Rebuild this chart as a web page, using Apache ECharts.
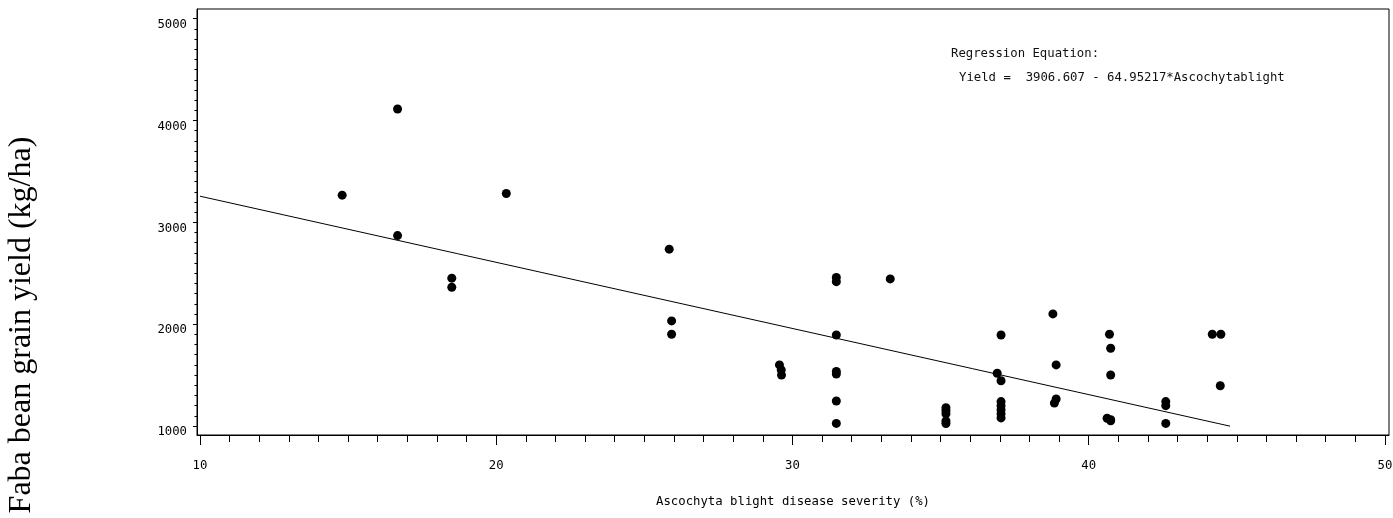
<!DOCTYPE html>
<html>
<head>
<meta charset="utf-8">
<title>Faba bean yield vs Ascochyta blight severity</title>
<script src="https://cdn.jsdelivr.net/npm/echarts@6/dist/echarts.min.js"></script>
<style>
  html, body { margin: 0; padding: 0; background: #fff; }
  #chart { width: 1393px; height: 518px; }
</style>
</head>
<body>
<div id="chart"></div>
<script>
// Observed plots: disease severity (%) and grain yield (kg/ha)
const severity = [
  14.80, 16.67, 16.67, 18.50, 18.50, 20.34,
  25.84, 25.92, 25.92,
  29.56, 29.62, 29.63,
  31.48, 31.48, 31.48, 31.48, 31.48, 31.48, 31.48,
  33.30,
  35.18, 35.18, 35.18, 35.18, 35.18,
  36.91, 37.04, 37.04, 37.04, 37.04, 37.04, 37.04, 37.04,
  38.79, 38.90, 38.90, 38.84,
  40.70, 40.74, 40.74, 40.62, 40.74, 40.74,
  42.60, 42.60, 42.60,
  44.17, 44.46, 44.44
];
const grainYield = [
  3267, 4113, 2870, 2452, 2363, 3283,
  2737, 2032, 1901,
  1600, 1550, 1500,
  2458, 2418, 1894, 1535, 1510, 1246, 1026,
  2445,
  1180, 1150, 1120, 1050, 1025,
  1518, 1445, 1894, 1240, 1200, 1160, 1120, 1080,
  2101, 1600, 1265, 1225,
  1901, 1764, 1501, 1076, 1052, 1062,
  1240, 1200, 1026,
  1901, 1901, 1396
];

// Fitted regression: Yield = 3906.607 - 64.95217 * Ascochytablight
const INTERCEPT = 3906.607;
const SLOPE = -64.95217;
const fitRange = [10, 44.77];

const xMajorTicks = [10, 20, 30, 40, 50];
const yMajorTicks = [1000, 2000, 3000, 4000, 5000];

const xMinorTicks = [];
for (let v = 10; v <= 50; v += 1) if (v % 10 !== 0) xMinorTicks.push(v);
const yMinorTicks = [];
for (let v = 1000; v <= 5000; v += 100) if (v % 1000 !== 0) yMinorTicks.push(v);

const X_MIN = 9.9, X_MAX = 50.135;
const Y_MIN = 912, Y_MAX = 5095;

const points = severity.map((s, i) => [s, grainYield[i]]);
const fitLine = fitRange.map(x => [x, INTERCEPT + SLOPE * x]);

const mono = '"DejaVu Sans Mono", "Liberation Mono", monospace';
const MONO_SIZE = 12.3;

const chart = echarts.init(document.getElementById('chart'), null, { renderer: 'canvas' });
chart.setOption({
  animation: false,
  backgroundColor: '#ffffff',
  grid: {
    left: 197, right: 4, top: 9, bottom: 83,
    show: true, borderColor: '#000', borderWidth: 1,
    backgroundColor: 'transparent',
    outerBoundsMode: 'none'
  },
  xAxis: [
    {
      type: 'value', min: X_MIN, max: X_MAX, position: 'bottom',
      axisLine: { show: true, onZero: false, lineStyle: { color: '#000', width: 1 } },
      axisTick: { show: true, customValues: xMajorTicks, length: 10, lineStyle: { color: '#000' } },
      axisLabel: {
        customValues: xMajorTicks, margin: 25, color: '#000',
        fontFamily: mono, fontSize: MONO_SIZE, formatter: v => String(v)
      },
      splitLine: { show: false },
      name: 'Ascochyta blight disease severity (%)',
      nameLocation: 'middle', nameGap: 61,
      nameTextStyle: { fontFamily: mono, fontSize: MONO_SIZE, color: '#000' }
    },
    {
      type: 'value', min: X_MIN, max: X_MAX, position: 'bottom',
      axisLine: { show: false, onZero: false },
      axisTick: { show: true, customValues: xMinorTicks, length: 7, lineStyle: { color: '#000' } },
      axisLabel: { show: false },
      splitLine: { show: false }
    }
  ],
  yAxis: [
    {
      type: 'value', min: Y_MIN, max: Y_MAX, position: 'left',
      axisLine: { show: true, onZero: false, lineStyle: { color: '#000', width: 1 } },
      axisTick: { show: true, customValues: yMajorTicks, length: 4, lineStyle: { color: '#000' } },
      axisLabel: {
        customValues: yMajorTicks, margin: 10, color: '#000',
        fontFamily: mono, fontSize: MONO_SIZE, verticalAlign: 'top',
        formatter: v => String(v)
      },
      splitLine: { show: false }
    },
    {
      type: 'value', min: Y_MIN, max: Y_MAX, position: 'left',
      axisLine: { show: false, onZero: false },
      axisTick: { show: true, customValues: yMinorTicks, length: 2.5, lineStyle: { color: '#000' } },
      axisLabel: { show: false },
      splitLine: { show: false }
    }
  ],
  graphic: [
    {
      type: 'text', left: 951, top: 48,
      style: {
        text: 'Regression Equation:',
        font: MONO_SIZE + 'px ' + mono, fill: '#111'
      }
    },
    {
      type: 'text', left: 959, top: 72,
      style: {
        text: 'Yield =  3906.607 - 64.95217*Ascochytablight',
        font: MONO_SIZE + 'px ' + mono, fill: '#111'
      }
    },
    {
      type: 'text', x: 22, y: 325, rotation: Math.PI / 2,
      style: {
        text: 'Faba bean grain yield (kg/ha)',
        font: '32px "Liberation Serif", "Times New Roman", serif', fill: '#000',
        align: 'center', verticalAlign: 'middle'
      }
    }
  ],
  series: [
    {
      type: 'line', xAxisIndex: 0, yAxisIndex: 0,
      data: fitLine, showSymbol: false, symbol: 'none',
      lineStyle: { color: '#000', width: 1 }, z: 2, silent: true
    },
    {
      type: 'scatter', xAxisIndex: 0, yAxisIndex: 0,
      data: points, symbol: 'circle', symbolSize: 9,
      itemStyle: { color: '#000', opacity: 1 }, z: 3
    }
  ]
});
</script>
</body>
</html>
